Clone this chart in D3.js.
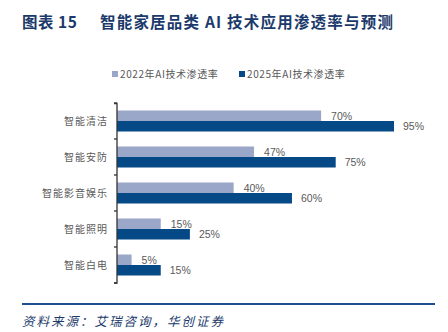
<!DOCTYPE html>
<html><head><meta charset="utf-8">
<script src="https://cdn.jsdelivr.net/npm/d3@7"></script>
<style>
body{margin:0;background:#fff;}
svg{display:block;}
</style></head>
<body>
<script>
const categories = ["智能清洁","智能安防","智能影音娱乐","智能照明","智能白电"];
const series2022 = [70,47,40,15,5];
const series2025 = [95,75,60,25,15];
const seriesNames = ["2022年AI技术渗透率","2025年AI技术渗透率"];
const colors = ["#9ba7c9","#054a87"];

const W=448,H=332;
const svg=d3.select("body").append("svg").attr("width",W).attr("height",H);
const cjk="'Noto Sans CJK SC','Noto Sans',sans-serif";

// title
const title=svg.append("text").attr("x",22).attr("y",28)
  .attr("font-family",cjk).attr("font-weight",700).attr("font-size",15.5)
  .attr("fill","#1b3a6b");
title.append("tspan").attr("letter-spacing",0.5).text("图表 15");
title.append("tspan").attr("x",100).attr("letter-spacing",1.2).text("智能家居品类 AI 技术应用渗透率与预测");

// scales
const x=d3.scaleLinear().domain([0,100]).range([117,408.6]);
const y=d3.scaleBand().domain(categories).range([103,283]);
const sub=d3.scaleBand().domain([0,1]).range([0,21]);
const off=(y.bandwidth()-21)/2;

// legend
const leg=svg.append("g");
[[112,120],[239,247]].forEach(([sx,tx],i)=>{
  leg.append("rect").attr("x",sx).attr("y",71).attr("width",6).attr("height",6).attr("fill",colors[i]);
  leg.append("text").attr("x",tx).attr("y",78).attr("font-family",cjk).attr("font-size",10)
    .attr("letter-spacing",0.6).attr("fill","#595959").text(seriesNames[i]);
});

const data=categories.map((c,i)=>({c,v:[series2022[i],series2025[i]]}));
const g=svg.append("g");
data.forEach(d=>{
  d.v.forEach((v,k)=>{
    const by=y(d.c)+off+sub(k);
    g.append("rect").attr("x",x(0)).attr("y",by).attr("width",x(v)-x(0)).attr("height",10.5)
      .attr("fill",colors[k]);
    g.append("text").attr("x",x(v)+(k===0?10:9)).attr("y",by+5.5).attr("dy","0.38em")
      .attr("font-family","'Liberation Sans',Arial,sans-serif").attr("font-size",10.5)
      .attr("fill","#595959").text(v+"%");
  });
});

// axis
const axis=d3.axisLeft(y).tickSize(0).tickFormat("");
const ag=svg.append("g").attr("transform",`translate(${x(0)},0)`).call(axis);
ag.select(".domain").attr("stroke","#333").attr("stroke-width",1.3).attr("d",`M-3,103.5H0V283H-3`);
const edges=d3.range(categories.length+1).map(i=>103+i*y.step());
ag.selectAll(".edge").data(edges).enter().append("line").attr("x1",-3).attr("x2",0)
  .attr("y1",d=>d).attr("y2",d=>d).attr("stroke","#333").attr("stroke-width",1.3);
svg.append("g").selectAll("text").data(categories).enter().append("text")
  .attr("x",108).attr("y",d=>y(d)+y.bandwidth()/2).attr("dy","0.35em")
  .attr("text-anchor","end").attr("font-family",cjk).attr("font-size",10)
  .attr("letter-spacing",1).attr("fill","#595959").text(d=>d);

// footer
svg.append("line").attr("x1",22).attr("x2",435).attr("y1",304).attr("y2",304)
  .attr("stroke","#1f4e8c").attr("stroke-width",2);
svg.append("text").attr("x",22).attr("y",326).attr("font-family",cjk).attr("font-size",12.5)
  .attr("font-style","italic").attr("letter-spacing",2).attr("fill","#1b3a6b")
  .text("资料来源：艾瑞咨询，华创证券");
</script>
</body></html>
